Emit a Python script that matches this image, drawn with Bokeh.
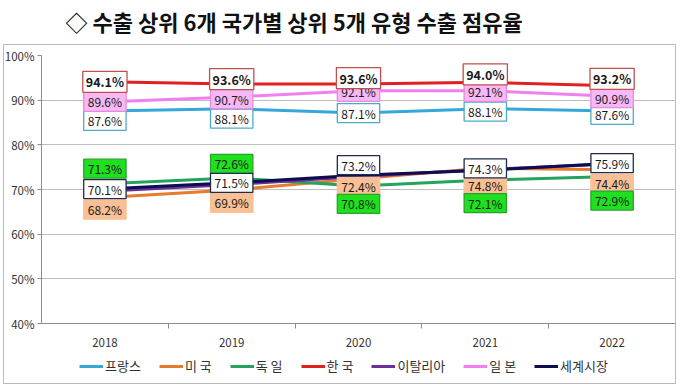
from bokeh.plotting import figure
from bokeh.layouts import column
from bokeh.models import (Range1d, FixedTicker, Legend, LegendItem, Label,
                          ColumnDataSource, PrintfTickFormatter, InlineStyleSheet)
from bokeh.embed import file_html
from bokeh.resources import INLINE
from bokeh.core.properties import value

# ---------------- data ----------------
years = ["2018", "2019", "2020", "2021", "2022"]
france = [87.6, 88.1, 87.1, 88.1, 87.6]
usa = [68.2, 69.9, 72.4, 74.8, 74.4]
germany = [71.3, 72.6, 70.8, 72.1, 72.9]
korea = [94.1, 93.6, 93.6, 94.0, 93.2]
italy = [69.6, 71.1, 72.9, 74.5, 75.7]
japan = [89.6, 90.7, 92.1, 92.1, 90.9]
world = [70.1, 71.5, 73.2, 74.3, 75.9]
y_ticks = [40, 50, 60, 70, 80, 90, 100]
title_text = "◇ 수출 상위 6개 국가별 상위 5개 유형 수출 점유율"

series_names = ["프랑스", "미 국", "독 일", "한 국", "이탈리아", "일 본", "세계시장"]

# ---------------- styles ----------------
FONT = "Noto Sans CJK KR"
colors = {
    "프랑스": "#35A8DA",
    "미 국": "#E57B2B",
    "독 일": "#24A35E",
    "한 국": "#E0211F",
    "이탈리아": "#6B2F9A",
    "일 본": "#F080EE",
    "세계시장": "#0D0D4F",
}
# label box styles: (fill, border, bold)
label_style = {
    "한 국": ("#FFFFFF", "#C0504D", True),
    "일 본": ("#F7B8F5", "#E58AE3", False),
    "프랑스": ("#FFFFFF", "#4BACC6", False),
    "독 일": ("#1EE01E", "#2CA02C", False),
    "미 국": ("#F9C095", "#F9C095", False),
    "세계시장": ("#FFFFFF", "#1F2A4F", False),
}
# label pixel offsets (positive = upward)
label_offsets = {
    "한 국": [0, 5, 6, 8, 7],
    "일 본": [0, -2, -1, -1, -2],
    "프랑스": [-10, -10, 0, -3, -4],
    "독 일": [15, 14, -18, -23, -24],
    "미 국": [-12, -13, -8, -17, -14],
    "세계시장": [0, 0, 10, 2, 0],
}

values = {
    "프랑스": france, "미 국": usa, "독 일": germany, "한 국": korea,
    "이탈리아": italy, "일 본": japan, "세계시장": world,
}

xs = [i + 0.5 for i in range(len(years))]

W = 680
TITLE_H = 44
MAIN_H = 311
LEG_H = 387 - TITLE_H - MAIN_H
BL, BR = 41, 5

# ---------------- title strip ----------------
pt = figure(width=W, height=TITLE_H, output_backend="svg", toolbar_location=None,
            x_range=Range1d(0, W - BL - BR), y_range=Range1d(0, TITLE_H),
            min_border_left=BL, min_border_right=BR, min_border_top=0,
            min_border_bottom=0)
pt.axis.visible = False
pt.grid.grid_line_color = None
pt.outline_line_color = None
pt.add_layout(Label(x=24, y=TITLE_H - 20, text=title_text, text_font=FONT,
                    text_font_size="22px", text_font_style="bold",
                    text_color="#111111", text_baseline="middle",
                    text_align="left"))

# ---------------- main chart ----------------
p = figure(width=W, height=MAIN_H, output_backend="svg", toolbar_location=None,
           x_range=Range1d(0, len(years)), y_range=Range1d(y_ticks[0], y_ticks[-1]),
           min_border_left=BL, min_border_right=BR, min_border_top=11,
           min_border_bottom=32)
p.outline_line_color = None
p.background_fill_color = "white"
p.border_fill_color = "white"

p.yaxis.ticker = FixedTicker(ticks=y_ticks)
p.yaxis.formatter = PrintfTickFormatter(format="%d%%")
p.yaxis.axis_line_color = "#8C8C8C"
p.yaxis.major_tick_line_color = "#8C8C8C"
p.yaxis.major_tick_out = 4
p.yaxis.major_tick_in = 0
p.yaxis.minor_tick_line_color = None
p.yaxis.major_label_text_font = FONT
p.yaxis.major_label_text_font_size = "11.5px"
p.yaxis.major_label_text_color = "#333333"
p.yaxis.major_label_standoff = 3

p.xaxis.ticker = FixedTicker(ticks=xs, minor_ticks=list(range(1, len(years))))
p.xaxis.major_label_overrides = {x: y for x, y in zip(xs, years)}
p.xaxis.axis_line_color = "#8C8C8C"
p.xaxis.major_tick_line_color = None
p.xaxis.minor_tick_line_color = "#8C8C8C"
p.xaxis.minor_tick_out = 5
p.xaxis.minor_tick_in = 0
p.xaxis.major_label_text_font = FONT
p.xaxis.major_label_text_font_size = "11.5px"
p.xaxis.major_label_text_color = "#333333"
p.xaxis.major_label_standoff = 8

p.xgrid.grid_line_color = None
p.ygrid.grid_line_color = "#BDBDBD"
p.ygrid.grid_line_width = 1

draw_order = ["프랑스", "미 국", "독 일", "한 국", "일 본", "이탈리아", "세계시장"]
for name in draw_order:
    src = ColumnDataSource(dict(x=xs, y=values[name]))
    p.line("x", "y", source=src, line_color=colors[name], line_width=3)

label_order = ["프랑스", "일 본", "한 국", "미 국", "독 일", "세계시장"]
for name in label_order:
    fill, border, bold = label_style[name]
    src = ColumnDataSource(dict(
        x=xs, y=values[name],
        t=["%.1f%%" % v for v in values[name]],
        dy=[-o for o in label_offsets[name]],
    ))
    p.text("x", "y", text="t", source=src, y_offset="dy",
           text_align="center", text_baseline="middle",
           text_font=value(FONT), text_font_size="12.5px" if bold else "12px",
           text_font_style="bold" if bold else "normal",
           text_color="#1A1A1A",
           background_fill_color=fill, border_line_color=border,
           border_line_width=1.3, padding=(3, 1) if bold else (4, 1))

# ---------------- legend strip ----------------
pl = figure(width=W, height=LEG_H, output_backend="svg", toolbar_location=None,
            x_range=Range1d(0, 1), y_range=Range1d(0, 1),
            min_border_left=BL, min_border_right=BR, min_border_top=0,
            min_border_bottom=0)
pl.axis.visible = False
pl.grid.grid_line_color = None
pl.outline_line_color = None
pl.border_fill_color = None
pl.background_fill_color = None
nan = float("nan")
leg_renderers = {}
for name in series_names:
    leg_renderers[name] = pl.line(x=[nan, nan], y=[nan, nan],
                                  line_color=colors[name], line_width=3)
items = [LegendItem(label=n, renderers=[leg_renderers[n]], index=0)
         for n in series_names]
legend = Legend(items=items, orientation="horizontal", location=(38, 12),
                glyph_width=24, glyph_height=14, label_standoff=2, spacing=18,
                label_text_font=FONT, label_text_font_size="13px",
                label_text_color="#333333", border_line_color=None,
                background_fill_alpha=0, padding=0, margin=0)
pl.add_layout(legend, "center")

layout = column(pt, p, pl, spacing=0)
layout.stylesheets = [InlineStyleSheet(css=(
    ":host { position: relative; }"
    ":host::after { content: ''; position: absolute; left: 3px; top: 44px;"
    " width: 671px; height: 338px; border: 1.5px solid #BBBBBB;"
    " pointer-events: none; z-index: 10; }"
))]

open("out.html", "w").write(file_html(layout, INLINE))
